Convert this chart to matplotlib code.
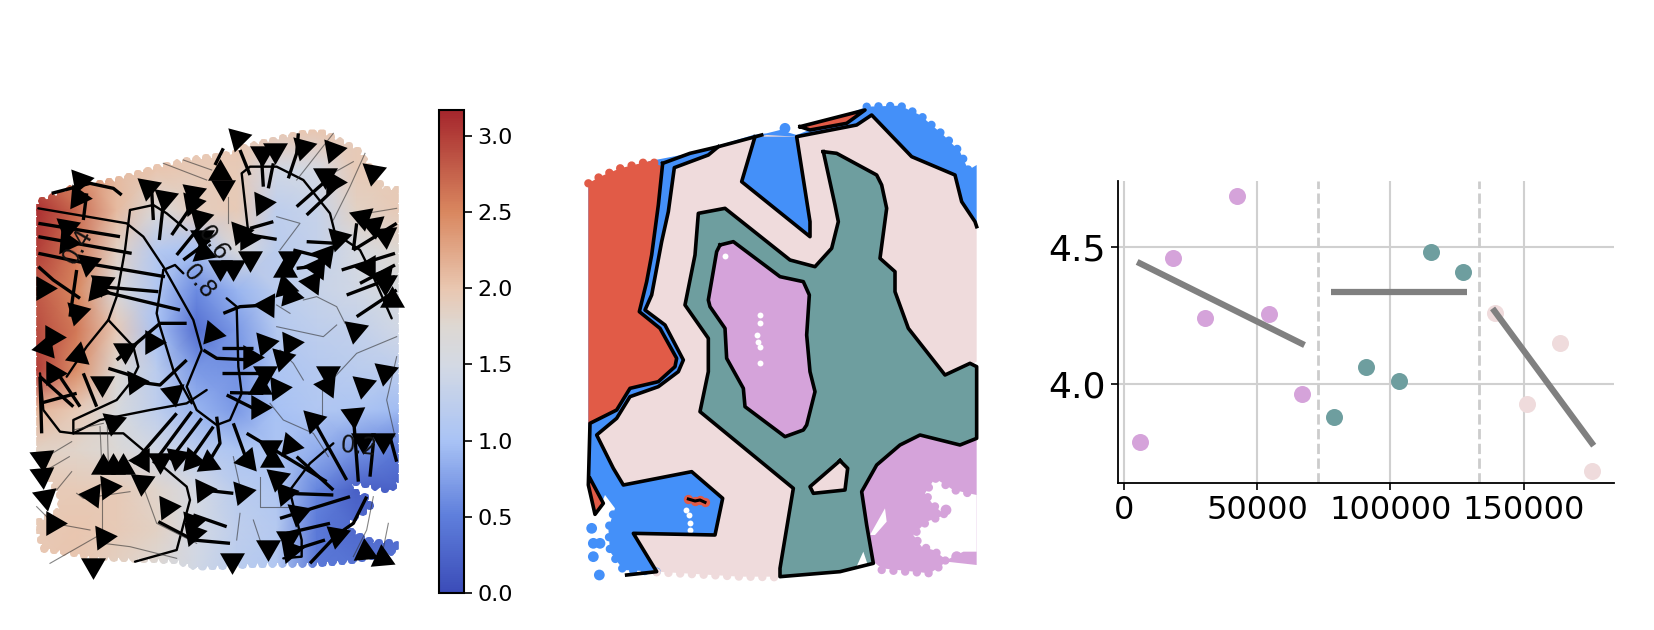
import numpy as np
import matplotlib
matplotlib.use("Agg")
import matplotlib.pyplot as plt
from matplotlib.colors import LinearSegmentedColormap
from matplotlib.patches import Polygon, PathPatch
from matplotlib.path import Path

W, H = 1654, 630

# ---- left panel: potential values on a coarse spatial grid
grid_x = [50, 170, 290, 410, 530, 650, 770, 890, 1010, 1135]
grid_y = [60, 180, 300, 420, 540, 660, 780, 900, 1020, 1140, 1260, 1380]
potential = [
    [2.3, 2.2, 2.05, 2.0, 2.0, 2.0, 2.0, 2.0, 1.95, 1.95],
    [2.7, 2.45, 2.1, 2.0, 1.95, 1.95, 1.45, 1.5, 1.95, 1.95],
    [3.1, 2.7, 2.1, 1.65, 1.9, 1.95, 1.25, 1.35, 1.85, 1.95],
    [3.0, 2.6, 1.85, 1.15, 1.0, 1.65, 1.2, 1.3, 1.55, 1.75],
    [2.8, 2.5, 1.65, 1.1, 0.6, 0.9, 1.2, 1.35, 1.45, 1.6],
    [2.9, 2.6, 1.95, 1.0, 0.35, 0.7, 1.15, 1.25, 1.3, 1.45],
    [3.0, 2.45, 1.75, 1.2, 0.7, 0.65, 1.05, 1.15, 1.2, 1.25],
    [2.15, 1.95, 1.6, 1.25, 0.9, 0.7, 1.0, 1.1, 1.05, 0.95],
    [1.85, 1.8, 1.7, 1.45, 1.2, 1.05, 1.05, 0.85, 0.65, 0.45],
    [1.95, 1.95, 1.95, 1.8, 1.5, 1.2, 1.1, 0.55, 0.2, 0.2],
    [1.95, 2.0, 1.95, 1.85, 1.5, 1.25, 1.15, 0.45, 0.3, 0.3],
    [2.0, 2.0, 1.85, 1.7, 1.45, 1.2, 1.1, 0.45, 0.4, 0.4],
]
cbar_ticks = [0.0, 0.5, 1.0, 1.5, 2.0, 2.5, 3.0]
# colours, at value / 3.17
cbar_colors = [(0.0, "#3b4cb8"), (0.16, "#5f7fdc"), (0.315, "#a9c3f5"), (0.47, "#d3d9e4"), (0.55, "#ddd8d3"),
               (0.63, "#e9c7b1"), (0.79, "#d9875f"), (1.0, "#a5262c")]
tissue_outline = [(50, 295), (60, 275), (100, 262), (160, 235), (280, 215), (360, 190), (430, 170),
                  (520, 150), (600, 140), (650, 130), (670, 115), (730, 100), (830, 75), (900, 65),
                  (960, 95), (1010, 120), (1050, 175), (1090, 240), (1135, 240), (1135, 1110),
                  (1110, 1140), (1050, 1125), (1000, 1115), (985, 1140), (1040, 1165), (1050, 1190),
                  (990, 1230), (960, 1250), (1000, 1270), (1060, 1300), (1130, 1300), (1130, 1320),
                  (1090, 1330), (1000, 1350), (880, 1360), (750, 1360), (530, 1370), (470, 1350),
                  (220, 1340), (110, 1320), (70, 1315), (50, 1240), (110, 1210), (130, 1170),
                  (110, 1140), (50, 1030)]

contours_left = [
    [(330, 300), (315, 420), (290, 560), (265, 630), (340, 710), (355, 770), (330, 820), (290, 870),
     (160, 930), (160, 970), (310, 970), (500, 1130), (510, 1170), (470, 1320), (345, 1355)],
    [(55, 295), (320, 340), (370, 380), (430, 470), (520, 630), (545, 720), (500, 830), (530, 900),
     (590, 945), (630, 930), (665, 850), (655, 770), (650, 590), (620, 565)],
    [(430, 480), (465, 465), (490, 490)],
    [(430, 480), (410, 610), (420, 650), (460, 780), (515, 880)],
    [(685, 370), (665, 190), (690, 170), (770, 170), (850, 210), (930, 310), (945, 370), (1020, 420),
     (1060, 500), (1115, 625)],
    [(330, 300), (400, 285), (440, 310), (500, 360)],
    [(265, 630), (200, 710), (140, 800)],
    [(60, 790), (70, 900), (120, 965), (160, 970)],
    [(810, 1140), (870, 1060), (940, 1000)],
    [(810, 1145), (845, 1290), (845, 1340), (790, 1345)],
    [(160, 970), (240, 930), (390, 900), (500, 880), (560, 840)],
]
streams_thick = [
    [(55, 340), (300, 380)], [(55, 380), (335, 430)], [(55, 430), (200, 460), (435, 500)],
    [(55, 470), (100, 510), (180, 565)], [(240, 530), (415, 545)], [(230, 540), (480, 600)],
    [(95, 250), (210, 220), (280, 235), (305, 255)], [(200, 250), (190, 330)], [(170, 480), (150, 620)],
    [(395, 240), (400, 330)], [(430, 280), (418, 390)], [(520, 280), (455, 375)], [(555, 330), (470, 435)],
    [(570, 390), (490, 450)], [(610, 115), (585, 165)], [(660, 120), (690, 195)], [(725, 150), (730, 230)],
    [(760, 160), (745, 235)], [(835, 70), (830, 130), (805, 205)], [(915, 215), (830, 290)],
    [(950, 230), (860, 315)], [(760, 335), (690, 355)], [(690, 375), (770, 388)], [(860, 395), (950, 400)],
    [(820, 420), (900, 440)], [(830, 475), (890, 468)], [(1000, 420), (1010, 340)], [(1130, 340), (1000, 420)],
    [(1125, 430), (965, 480)], [(1125, 465), (1020, 520)], [(1125, 500), (980, 555)], [(1130, 540), (1010, 620)],
    [(610, 610), (660, 590), (740, 585)], [(605, 715), (700, 715)], [(550, 720), (590, 745), (700, 750)],
    [(605, 790), (730, 790)], [(630, 848), (730, 850)], [(620, 855), (710, 900)], [(60, 800), (160, 890)],
    [(120, 800), (180, 890)], [(190, 790), (230, 890)], [(265, 775), (345, 800)], [(60, 880), (170, 850)],
    [(345, 815), (420, 825), (500, 750)], [(290, 750), (420, 640), (500, 640)], [(60, 800), (65, 970)],
    [(470, 910), (340, 1060)], [(515, 905), (400, 1060)], [(545, 925), (450, 1050)], [(580, 950), (510, 1050)],
    [(590, 920), (600, 1000), (570, 1050)], [(640, 940), (680, 1050)], [(680, 970), (780, 1030), (920, 1115)],
    [(830, 1040), (940, 1140)], [(880, 930), (980, 1110)], [(1000, 915), (1015, 1115)], [(1060, 1000), (1050, 1100)],
    [(1110, 980), (1130, 1055)], [(800, 1150), (940, 1155)], [(990, 1160), (780, 1225)], [(930, 1240), (800, 1270)],
    [(915, 1290), (820, 1320)], [(950, 1275), (870, 1360)], [(1040, 1160), (1000, 1240), (950, 1275)],
    [(520, 1215), (620, 1250)], [(415, 1235), (520, 1290), (630, 1300)], [(550, 1140), (640, 1150)],
]
streams_thin = [
    [(430, 160), (560, 210)], [(490, 150), (575, 180)], [(625, 260), (625, 340)], [(940, 70), (830, 210)],
    [(1000, 155), (920, 200)], [(1035, 130), (990, 230), (940, 330)], [(1130, 295), (1040, 310)],
    [(770, 320), (840, 340), (780, 420)], [(850, 570), (890, 560), (950, 590), (975, 640)],
    [(770, 650), (840, 665), (910, 680), (950, 645)], [(770, 585), (810, 610)], [(780, 720), (820, 760), (850, 810)],
    [(1130, 680), (1010, 730), (945, 800)], [(1130, 740), (1100, 870), (1125, 980)], [(750, 880), (790, 930), (880, 970), (925, 1040)],
    [(905, 830), (905, 920)], [(1060, 1160), (1040, 1260), (1000, 1340)], [(1105, 1240), (1085, 1340)],
    [(720, 1100), (720, 1190), (830, 1190)], [(50, 1190), (100, 1240), (210, 1260)], [(90, 1360), (230, 1280)],
    [(250, 1300), (330, 1310), (470, 1345)], [(245, 1150), (245, 1280)], [(170, 1150), (190, 1165), (330, 1145)],
    [(370, 1130), (410, 1240), (530, 1300)], [(240, 950), (245, 1060)], [(262, 950), (265, 1060)],
    [(155, 995), (80, 1040)], [(148, 1040), (80, 1080)], [(155, 1085), (110, 1140)], [(660, 1210), (650, 1290)],
    [(700, 1230), (730, 1320)], [(640, 1040), (660, 1130)], [(160, 960), (250, 940)],
]
# arrow heads: x, y, rotation of the triangle (0 is up, counter clockwise)
head_x = [180, 175, 140, 140, 205, 245, 230, 70, 170, 95, 75, 175, 385, 435, 520, 515, 540, 545, 550,
          600, 640, 690, 395, 575, 315, 655, 725, 765, 850, 938, 600, 610, 1060, 915, 940, 725, 660, 680,
          810, 795, 915, 890, 875, 795, 810, 740, 955, 1025, 1060, 1095, 1045, 1090, 1095, 1115, 1005,
          735, 810, 690, 785, 735, 925, 920, 720, 775, 715, 1030, 1095, 880, 1000, 1030, 1090, 750, 755,
          810, 680, 665, 770, 795, 835, 805, 810, 745, 950, 1035, 1085, 635, 100, 245, 345, 460, 280, 65,
          65, 75, 250, 280, 310, 365, 420, 470, 515, 565, 365, 215, 265, 440, 550, 515, 520, 100, 250, 220]
head_y = [210, 260, 350, 395, 460, 520, 540, 535, 605, 680, 710, 735, 230, 265, 250, 280, 325, 380, 425,
          470, 470, 445, 695, 668, 720, 85, 130, 120, 110, 120, 190, 230, 185, 195, 215, 278, 365, 385,
          445, 480, 435, 470, 515, 530, 555, 585, 385, 320, 345, 375, 470, 500, 515, 570, 660,
          700, 700, 740, 745, 790, 790, 825, 830, 835, 890, 825, 785, 930, 915, 990, 990, 1010, 1050,
          1005, 1050, 1145, 1105, 1150, 1210, 1285, 1320, 1310, 1275, 1325, 1345, 1350, 790, 820, 815, 850, 935, 1045,
          1095, 1160, 1070, 1070, 1070, 1050, 1050, 1040, 1050, 1060, 1115, 1155, 1130, 1190, 1140, 1235, 1270, 1240, 1280, 1365]
head_rot = [280, 265, 290, 265, 290, 295, 260, 270, 285, 150, 100, 110, 170, 170, 170, 280, 285, 300, 250,
            180, 180, 300, 150, 20, 300, 165, 180, 180, 285, 280, 0, 300, 170, 300, 270, 275, 280, 270,
            180, 0, 80, 85, 85, 15, 20, 88, 285, 310, 310, 305, 330, 320, 300, 0, 170,
            40, 275, 270, 285, 300, 180, 85, 0, 275, 150, 170, 170, 165, 185, 180, 180, 180, 0,
            20, 340, 280, 170, 280, 290, 180, 280, 300, 170, 5, 5, 180, 150, 60, 275, 190, 170, 185,
            185, 190, 0, 0, 0, 90, 60, 50, 20, 5, 175, 85, 275, 275, 275, 280, 280, 270, 275, 180]
label_text = ["0.4", "0.6", "0.8", "0.2"]
label_x = [172, 578, 537, 1015]
label_y = [410, 400, 515, 1010]
label_rot = [60, -55, -50, -5]

# ---- middle panel: domains
mid_red = [(25, 265), (60, 245), (120, 220), (210, 198), (248, 215), (235, 330), (215, 480), (200, 560),
           (178, 650), (240, 700), (290, 790), (285, 815), (235, 860), (150, 880), (110, 945), (30, 985), (25, 985)]
mid_blue = [(25, 265), (210, 198), (330, 175), (420, 150), (520, 120), (560, 115), (600, 105), (650, 120),
            (700, 100), (770, 70), (860, 35), (960, 32), (1020, 60), (1090, 120), (1140, 170), (1165, 225),
            (1190, 210), (1190, 400), (700, 1000), (450, 1340), (230, 1430), (130, 1425), (90, 1370), (85, 1300),
            (105, 1240), (75, 1200), (50, 1260), (25, 1160)]
mid_pink = [(283, 218), (385, 180), (415, 155), (470, 140), (560, 120), (650, 125), (830, 90), (875, 60),
            (935, 115), (995, 185), (1125, 240), (1145, 320), (1185, 380), (1190, 390), (1190, 800), (800, 1000),
            (640, 1180), (600, 1445), (480, 1445), (230, 1430), (160, 1315), (405, 1320), (428, 1210), (335, 1130),
            (130, 1170), (100, 1120), (50, 1020), (110, 970), (150, 905), (235, 875), (295, 830), (310, 795),
            (255, 690), (195, 645), (215, 600), (245, 440), (265, 350)]
mid_blue_wedge = [(520, 125), (485, 260), (690, 425), (690, 380), (650, 125)]
mid_teal = [(730, 170), (770, 175), (890, 240), (905, 270), (920, 340), (900, 490), (945, 530), (945, 590),
            (985, 700), (1095, 840), (1170, 805), (1190, 815), (1190, 1030), (1140, 1050), (1020, 1020), (960, 1050),
            (890, 1110), (845, 1190), (860, 1290), (880, 1405), (780, 1430), (600, 1445), (600, 1420), (640, 1180),
            (360, 950), (385, 830), (385, 730), (315, 630), (345, 480), (355, 355), (435, 340), (630, 495),
            (705, 515), (755, 460), (775, 380), (765, 330)]
mid_purple = [(420, 450), (460, 440), (600, 545), (670, 560), (688, 600), (680, 720), (690, 830), (705, 890),
              (680, 990), (670, 1005), (615, 1025), (495, 935), (490, 880), (440, 790), (435, 700), (390, 635),
              (385, 615), (410, 470)]
mid_purple2 = [(1190, 1030), (1140, 1050), (1020, 1020), (960, 1050), (890, 1110), (845, 1190), (860, 1290), (880, 1400),
               (905, 1420), (1050, 1435), (1100, 1400), (1190, 1410)]
mid_island = [(780, 1097), (803, 1120), (795, 1185), (700, 1195), (690, 1175)]
mid_red_sliver = [(30, 1150), (70, 1225), (45, 1258), (25, 1170)]
mid_red_top = [(660, 95), (855, 45), (800, 85), (690, 105)]
mid_holes = [
    [(1035, 1195), (1065, 1150), (1120, 1185), (1190, 1200), (1190, 1370), (1150, 1370), (1100, 1395), (1060, 1365),
     (1025, 1355), (1000, 1320), (1040, 1280), (1095, 1260), (1060, 1230)],
    [(870, 1320), (915, 1240), (920, 1280), (885, 1320)],
    [(850, 1370), (865, 1415), (825, 1425)],
]
mid_lines = [
    [(248, 205), (235, 330), (215, 480), (200, 560), (178, 650), (240, 700), (290, 790), (285, 815), (235, 860),
     (150, 880), (110, 945), (30, 985), (25, 1170), (45, 1258), (70, 1225), (30, 1150)],
    [(248, 205), (330, 175), (415, 155), (545, 120)],
    [(140, 1440), (230, 1430), (160, 1315), (405, 1320), (428, 1210), (335, 1130), (130, 1170), (100, 1120), (50, 1020),
     (110, 970), (150, 905), (235, 875), (295, 830), (310, 795), (255, 690), (195, 645), (215, 600), (245, 440),
     (265, 350), (283, 218), (385, 180), (415, 155)],
    [(525, 125), (485, 260), (690, 425), (690, 380), (650, 125), (830, 90), (875, 60), (995, 185), (1125, 240),
     (1145, 320), (1185, 380), (1190, 395)],
    mid_teal + [mid_teal[0]],
    mid_purple + [mid_purple[0]],
    mid_island + [mid_island[0]],
    mid_red_top + [mid_red_top[0]],
]
# bumpy spot edges of the tissue, with the colour of the domain below
edge_red = [(25, 265), (60, 245), (120, 220), (210, 198), (245, 212)]
edge_blue = [(860, 35), (960, 32), (1020, 60), (1090, 120), (1140, 170), (1165, 225), (1190, 210)]
edge_blue2 = [(230, 1430), (130, 1425), (90, 1370), (85, 1300), (105, 1240)]
edge_purple = [(905, 1425), (1050, 1435), (1100, 1400), (1060, 1365), (1025, 1355), (1000, 1320), (1040, 1280), (1095, 1260),
               (1060, 1230), (1035, 1195), (1065, 1150), (1120, 1185), (1190, 1200)]
edge_pink = [(230, 1432), (480, 1445), (600, 1447)]
mid_red_spot_x = [325, 345, 360, 375]
mid_red_spot_y = [1212, 1218, 1215, 1222]
mid_speck_x = [435, 540, 540, 530, 535, 540, 540, 318, 328, 330, 330]
mid_speck_y = [483, 660, 685, 720, 740, 755, 803, 1245, 1260, 1285, 1305]
mid_dot_x = [615, 35, 40, 60, 40, 58, 1098, 1130, 1170]
mid_dot_y = [100, 1300, 1345, 1345, 1385, 1440, 1245, 1385, 1390]

# ---- right panel: pseudotime bins
x_purple = [6030, 18390, 30460, 42670, 54600, 66950]
y_purple = [3.787, 4.459, 4.241, 4.687, 4.255, 3.962]
x_teal = [78880, 90800, 103300, 115090, 127440]
y_teal = [3.878, 4.063, 4.010, 4.484, 4.411]
x_pink = [139370, 151300, 163650, 175570]
y_pink = [4.259, 3.925, 4.151, 3.682]
fit_x = [[5030, 67820], [77730, 128740], [138360, 176290]]
fit_y = [[4.446, 4.142], [4.335, 4.335], [4.276, 3.774]]
breaks = [72990, 133330]

RED, BLUE, PINK, TEAL, PURPLE = "#E15B47", "#4490F9", "#EFDBDC", "#6E9E9F", "#D5A3DA"


def px_axes(x0, y0, x1, y1):
    return fig.add_axes([x0 / W, 1 - y1 / H, (x1 - x0) / W, (y1 - y0) / H])


def bumpy_path(outline, radius=13, step=30):
    # polygon plus little circles along its edge, so the clip looks like spots
    pts = np.array(outline + [outline[0]], dtype=float)
    area = np.sum(pts[:-1, 0] * pts[1:, 1] - pts[1:, 0] * pts[:-1, 1])
    if area < 0:
        pts = pts[::-1]
    parts = [Path(pts, closed=True)]
    seg = np.hypot(*np.diff(pts, axis=0).T)
    dist = np.r_[0, np.cumsum(seg)]
    for d in np.arange(0, dist[-1], step):
        cx, cy = np.interp(d, dist, pts[:, 0]), np.interp(d, dist, pts[:, 1])
        parts.append(Path.circle((cx, cy), radius))
    return Path.make_compound_path(*parts)


fig = plt.figure(figsize=(W / 100, H / 100), dpi=100)
cmap = LinearSegmentedColormap.from_list("cbar", cbar_colors)

# left
ax = px_axes(20, 110, 500, 600)
ax.set_xlim(0, 1440)
ax.set_ylim(1470, 0)
ax.axis("off")
mesh = ax.pcolormesh(grid_x, grid_y, np.array(potential), shading="gouraud", cmap=cmap, vmin=0, vmax=3.17)
clip = PathPatch(bumpy_path(tissue_outline), transform=ax.transData, fc="none", ec="none")
ax.add_patch(clip)
mesh.set_clip_path(clip)
for line in contours_left:
    ax.plot(*zip(*line), color="black", lw=1.7, solid_capstyle="round")
for line in streams_thick:
    ax.plot(*zip(*line), color="black", lw=2.4, solid_capstyle="butt")
for line in streams_thin:
    ax.plot(*zip(*line), color="#333333", lw=0.8, alpha=0.6)
for x, y, rot in zip(head_x, head_y, head_rot):
    ax.scatter([x], [y], marker=(3, 0, rot), s=430, color="black", linewidths=0, zorder=4)
for t, x, y, rot in zip(label_text, label_x, label_y, label_rot):
    ax.text(x, y, t, rotation=rot, fontsize=17, ha="center", va="center", color="#111111", zorder=5)

# colorbar
cax = px_axes(439, 110, 464, 593)
cb = fig.colorbar(mesh, cax=cax, ticks=cbar_ticks)
cb.ax.set_ylim(0, 3.17)
cb.ax.tick_params(labelsize=16, length=6, width=1.2)
cb.outline.set_linewidth(1.5)

# middle
ax = px_axes(580, 95, 990, 590)
ax.set_xlim(0, 1230)
ax.set_ylim(1485, 0)
ax.axis("off")
for poly, col in [(mid_blue, BLUE), (mid_red, RED), (mid_pink, PINK), (mid_blue_wedge, BLUE), (mid_teal, TEAL),
                  (mid_purple, PURPLE), (mid_purple2, PURPLE), (mid_island, PINK), (mid_red_sliver, RED),
                  (mid_red_top, RED)]:
    ax.add_patch(Polygon(poly, closed=True, fc=col, ec="none"))
for poly in mid_holes:
    ax.add_patch(Polygon(poly, closed=True, fc="white", ec="none"))
for edge, col in [(edge_red, RED), (edge_blue, BLUE), (edge_blue2, BLUE), (edge_purple, PURPLE), (edge_pink, PINK)]:
    ax.plot(*zip(*edge), color=col, lw=6, ls=(0, (0.01, 1.4)), dash_capstyle="round")
ax.scatter(mid_dot_x, mid_dot_y, s=60, color=[BLUE] * 6 + [PURPLE] * 3, linewidths=0)
ax.scatter(mid_speck_x, mid_speck_y, s=18, color="white", linewidths=0, zorder=3)
for line in mid_lines:
    ax.plot(*zip(*line), color="black", lw=2.6, solid_joinstyle="round", zorder=4)
ax.scatter(mid_red_spot_x, mid_red_spot_y, s=45, color=RED, linewidths=0, zorder=4)
ax.plot(mid_red_spot_x, mid_red_spot_y, color="black", lw=2.2, zorder=5)

# right
ax = px_axes(1118, 181, 1614, 483)
ax.set_xlim(-2150, 183900)
ax.set_ylim(3.6375, 4.742)
ax.spines[["top", "right"]].set_visible(False)
ax.spines[["left", "bottom"]].set_linewidth(1.3)
ax.grid(True, color="#d0d0d0", lw=1.5)
ax.set_axisbelow(True)
ax.set_xticks([0, 50000, 100000, 150000])
ax.set_yticks([4.0, 4.5])
ax.tick_params(axis="x", labelsize=23, length=5, width=1.2)
ax.tick_params(axis="y", labelsize=26, length=5, width=1.2)
for b in breaks:
    ax.axvline(b, color="#cccccc", lw=2, ls="--", zorder=1)
ax.scatter(x_purple, y_purple, s=150, color=PURPLE, linewidths=0, zorder=2)
ax.scatter(x_teal, y_teal, s=150, color=TEAL, linewidths=0, zorder=2)
ax.scatter(x_pink, y_pink, s=150, color=PINK, linewidths=0, zorder=2)
for xs, ys in zip(fit_x, fit_y):
    ax.plot(xs, ys, color="gray", lw=4.5, solid_capstyle="butt", zorder=3)

fig.savefig("out.png", dpi=100)
